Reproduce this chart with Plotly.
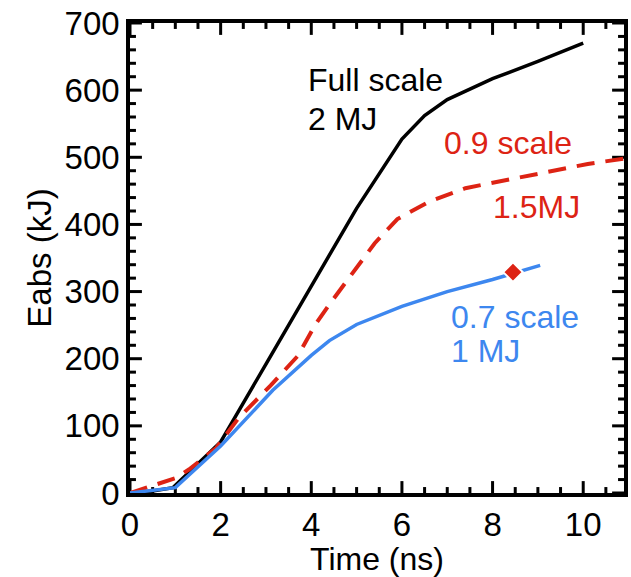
import plotly.graph_objects as go

# Full scale (2 MJ)
t_full = [0, 0.5, 0.95, 2, 3, 4, 5, 6, 6.5, 7, 8, 9, 10]
e_full = [0, 3, 8, 76, 192, 308, 424, 527, 562, 586, 617, 643, 670]

# 0.9 scale (1.5 MJ)
t_09 = [0, 0.37, 1.0, 1.3, 1.9, 2.4, 3.1, 3.7, 4.1, 4.4, 5.0, 5.4, 5.9, 6.6, 7.4, 8.8, 10.1, 10.9]
e_09 = [0, 8, 22, 35, 67, 112, 160, 204, 252, 281, 337, 372, 408, 434, 454, 473, 490, 498]

# 0.7 scale (1 MJ)
t_07 = [0, 1.0, 2, 2.4, 3.15, 4, 4.4, 5, 6, 7, 8, 9.05]
e_07 = [0, 8, 70, 99, 153, 205, 227, 251, 278, 300, 318, 339]

# marker
t_mark = [8.45]
e_mark = [329]

# axis ticks
x_major = [0, 2, 4, 6, 8, 10]
x_minor = [0.5, 1, 1.5, 2.5, 3, 3.5, 4.5, 5, 5.5, 6.5, 7, 7.5, 8.5, 9, 9.5, 10.5]
y_major = [0, 100, 200, 300, 400, 500, 600, 700]
y_minor = [v for v in range(20, 700, 20) if v % 100 != 0]
X_RANGE = [0, 10.9]
Y_RANGE = [0, 700]

RED = "#dd2314"
BLUE = "#3d87ef"
FONT = "Liberation Sans"

W, H = 631, 577
L, R, T, B = 130, 3, 23, 80
pw, ph = W - L - R, H - T - B
xu = (X_RANGE[1] - X_RANGE[0]) / pw   # data units per pixel
yu = (Y_RANGE[1] - Y_RANGE[0]) / ph

fig = go.Figure()

# inside tick marks on all four sides, built from the tick value lists
tx, ty = [], []
for vals, ln in ((x_major, 12), (x_minor, 6)):
    for v in vals:
        tx += [v, v, None, v, v, None]
        ty += [Y_RANGE[0], Y_RANGE[0] + ln * yu, None, Y_RANGE[1], Y_RANGE[1] - ln * yu, None]
for vals, ln in ((y_major, 12), (y_minor, 6)):
    for v in vals:
        tx += [X_RANGE[0], X_RANGE[0] + ln * xu, None, X_RANGE[1], X_RANGE[1] - ln * xu, None]
        ty += [v, v, None, v, v, None]
fig.add_trace(go.Scatter(x=tx, y=ty, mode="lines", line=dict(color="black", width=3),
                         hoverinfo="skip", showlegend=False, connectgaps=False))

fig.add_trace(go.Scatter(x=t_full, y=e_full, mode="lines",
                         line=dict(color="black", width=3.5), showlegend=False))
fig.add_trace(go.Scatter(x=t_09, y=e_09, mode="lines",
                         line=dict(color=RED, width=4, dash="18px,11px"), showlegend=False))
fig.add_trace(go.Scatter(x=t_07, y=e_07, mode="lines",
                         line=dict(color=BLUE, width=3.5), showlegend=False))
fig.add_trace(go.Scatter(x=t_mark, y=e_mark, mode="markers",
                         marker=dict(symbol="diamond", size=15, color=RED,
                                     line=dict(color="white", width=2)),
                         showlegend=False))

ann = [
    ("Full scale", 307, 80, "black", "left"),
    ("2 MJ", 307, 120, "black", "left"),
    ("0.9 scale", 445, 144, RED, "left"),
    ("1.5MJ", 586, 209, RED, "right"),
    ("0.7 scale", 452, 320, BLUE, "left"),
    ("1 MJ", 452, 354, BLUE, "left"),
]
for txt, px, py, col, anc in ann:
    fig.add_annotation(text=txt, x=(px - L) / pw, y=1 - (py - T) / ph,
                       xref="paper", yref="paper", xanchor=anc, yanchor="middle",
                       showarrow=False, font=dict(size=32, color=col, family=FONT))

fig.update_layout(
    width=W, height=H, margin=dict(l=L, r=R, t=T, b=B),
    plot_bgcolor="white", paper_bgcolor="white",
    xaxis=dict(range=X_RANGE, tickmode="array", tickvals=x_major,
               showline=True, linecolor="black", linewidth=3.5, mirror=True,
               ticks="", showgrid=False, zeroline=False,
               tickfont=dict(size=33, color="black", family=FONT),
               title=dict(text="Time (ns)", font=dict(size=32, color="black", family=FONT), standoff=8)),
    yaxis=dict(range=Y_RANGE, tickmode="array", tickvals=y_major,
               showline=True, linecolor="black", linewidth=3.5, mirror=True,
               ticks="", showgrid=False, zeroline=False,
               tickfont=dict(size=33, color="black", family=FONT),
               title=dict(text="Eabs (kJ)", font=dict(size=33, color="black", family=FONT), standoff=4)),
)

fig.write_html("out.html")
